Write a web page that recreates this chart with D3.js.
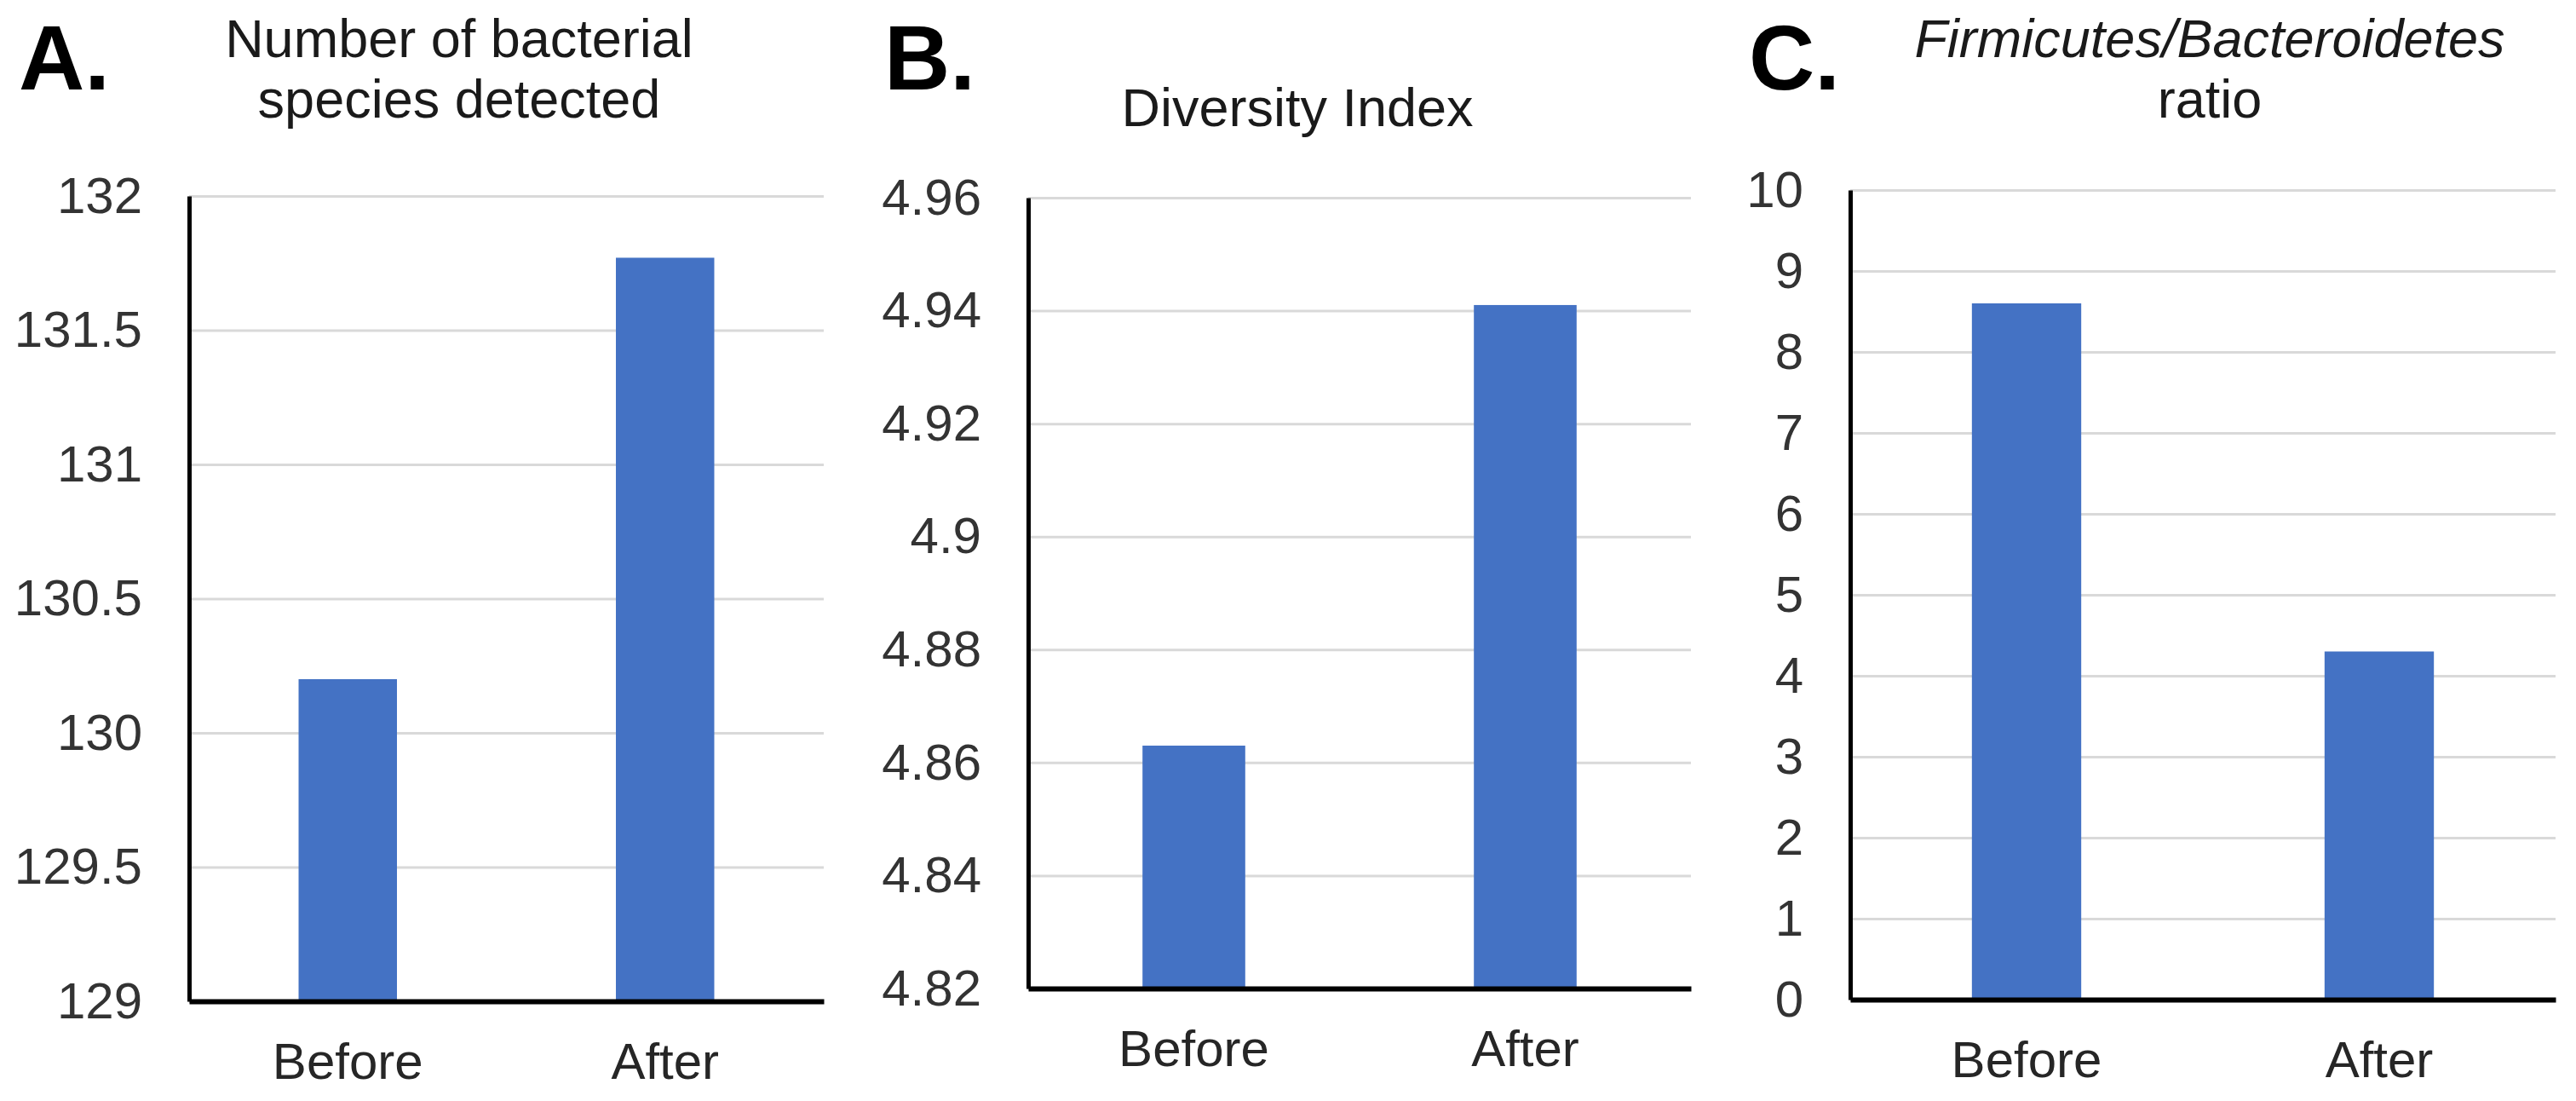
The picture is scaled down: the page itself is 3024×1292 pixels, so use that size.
<!DOCTYPE html>
<html lang="en">
<head>
<meta charset="UTF-8" />
<script src="https://d3js.org/d3.v7.min.js"></script>
<title>Bacterial species, diversity and F/B ratio</title>
<style>
  body { margin: 0; background: #fff; }
  text { font-family: "Liberation Sans", Arial, sans-serif; }
</style>
</head>
<body>
<script>
  var categories = ["Before", "After"];

  var speciesValues = [130.2, 131.77];
  var diversityValues = [4.863, 4.941];
  var ratioValues = [8.6, 4.3];

  var speciesTicks = [129, 129.5, 130, 130.5, 131, 131.5, 132];
  var diversityTicks = [4.82, 4.84, 4.86, 4.88, 4.9, 4.92, 4.94, 4.96];
  var ratioTicks = [0, 1, 2, 3, 4, 5, 6, 7, 8, 9, 10];

  var w = 3024;
  var h = 1292;

  var svg = d3.select("body")
    .append("svg")
    .attr("width", w)
    .attr("height", h);

  // layout of each panel (pixels)
  var panels = [
    { letter: "A.", letterX: 22, values: speciesValues, ticks: speciesTicks,
      left: 222, right: 967, top: 230, bottom: 1175,
      title: ["Number of bacterial", "species detected"], titleX: 539, italic: false },
    { letter: "B.", letterX: 1038, values: diversityValues, ticks: diversityTicks,
      left: 1207, right: 1985, top: 232, bottom: 1160,
      title: ["", "Diversity Index"], titleX: 1523, italic: false },
    { letter: "C.", letterX: 2053, values: ratioValues, ticks: ratioTicks,
      left: 2172, right: 3000, top: 223, bottom: 1173,
      title: ["Firmicutes/Bacteroidetes", "ratio"], titleX: 2594, italic: true }
  ];

  panels.forEach(function (p, i) {
    var g = svg.append("g");

    var x = d3.scaleBand()
      .domain(categories)
      .range([p.left, p.right])
      .padding(0);

    var y = d3.scaleLinear()
      .domain([p.ticks[0], p.ticks[p.ticks.length - 1]])
      .range([p.bottom, p.top]);

    // panel letter
    g.append("text")
      .attr("x", p.letterX)
      .attr("y", 105)
      .attr("font-size", 107)
      .attr("font-weight", "bold")
      .attr("fill", "#000")
      .text(p.letter);

    // title, two lines
    g.append("text")
      .attr("x", p.titleX)
      .attr("y", 67)
      .attr("text-anchor", "middle")
      .attr("font-size", 63)
      .attr("font-style", p.italic ? "italic" : "normal")
      .attr("fill", "#1a1a1a")
      .text(p.title[0]);
    g.append("text")
      .attr("x", p.titleX)
      .attr("y", i == 1 ? 148 : 138)
      .attr("text-anchor", "middle")
      .attr("font-size", 63)
      .attr("fill", "#1a1a1a")
      .text(p.title[1]);

    // gridlines
    g.append("g")
      .attr("transform", "translate(" + p.left + ",0)")
      .call(d3.axisLeft(y).tickValues(p.ticks).tickSize(-(p.right - p.left)).tickFormat(""))
      .call(function (s) { s.select(".domain").remove(); })
      .selectAll(".tick line")
      .attr("stroke", "#d9d9d9")
      .attr("stroke-width", 3);

    // bars
    var barW = x.bandwidth() * 0.31;
    g.selectAll(".bar")
      .data(p.values)
      .enter()
      .append("rect")
      .attr("class", "bar")
      .attr("x", function (d, j) { return x(categories[j]) + x.bandwidth() / 2 - barW / 2; })
      .attr("y", function (d) { return y(d); })
      .attr("width", barW)
      .attr("height", function (d) { return p.bottom - y(d); })
      .attr("fill", "#4472C4");

    // y axis with labels
    var yAxis = g.append("g")
      .attr("transform", "translate(" + p.left + ",0)")
      .call(d3.axisLeft(y).tickValues(p.ticks).tickSize(0).tickPadding(55)
        .tickFormat(function (d) { return String(d); }));
    yAxis.select(".domain")
      .attr("stroke", "#000")
      .attr("stroke-width", 5);
    yAxis.selectAll(".tick text")
      .attr("font-size", 60)
      .attr("font-family", "Liberation Sans, Arial, sans-serif")
      .attr("fill", "#333");

    // x axis
    var xAxis = g.append("g")
      .attr("transform", "translate(0," + p.bottom + ")")
      .call(d3.axisBottom(x).tickSize(0).tickPadding(48));
    xAxis.select(".domain")
      .attr("stroke", "#000")
      .attr("stroke-width", 6);
    xAxis.selectAll(".tick text")
      .attr("font-size", 60)
      .attr("font-family", "Liberation Sans, Arial, sans-serif")
      .attr("fill", "#262626");
  });
</script>
</body>
</html>
